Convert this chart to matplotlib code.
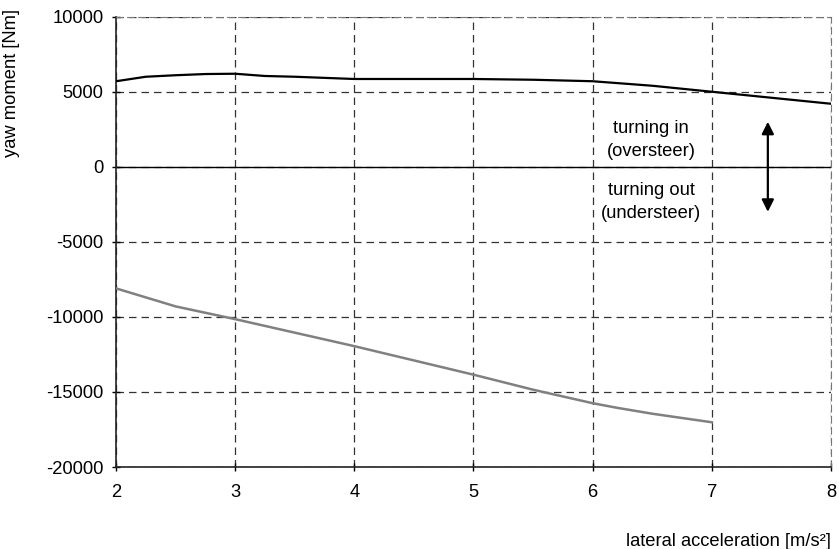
import matplotlib
matplotlib.use('Agg')
from matplotlib import pyplot as plt

plt.rcParams['font.family'] = ['Liberation Sans', 'DejaVu Sans']
plt.rcParams['axes.unicode_minus'] = False

# black curve: turning in / out moment
accel_top = [2.0, 2.25, 2.5, 2.75, 3.0, 3.25, 3.5, 4.0, 4.5, 5.0, 5.5, 6.0, 6.5, 7.0, 7.5, 8.0]
moment_top = [5700, 6000, 6100, 6180, 6200, 6050, 6000, 5850, 5850, 5850, 5800, 5700, 5400, 5000, 4600, 4200]

# grey curve
accel_low = [2.0, 2.5, 3.0, 3.5, 4.0, 4.5, 5.0, 5.5, 6.0, 6.2, 6.5, 7.0]
moment_low = [-8100, -9300, -10150, -11050, -11950, -12900, -13850, -14850, -15750, -16050, -16450, -17020]

x_ticks = [2, 3, 4, 5, 6, 7, 8]
y_ticks = [-20000, -15000, -10000, -5000, 0, 5000, 10000]

FS = 13.2

W, H = 839, 549
fig = plt.figure(figsize=(W / 100, H / 100), dpi=100)
ax = fig.add_axes([116 / W, 1 - 467 / H, (831 - 116) / W, (467 - 16.7) / H])

ax.set_xlim(2, 8)
ax.set_ylim(-20000, 10000)
ax.set_xticks(x_ticks)
ax.set_yticks(y_ticks)
ax.tick_params(direction='inout', length=6, width=1, labelsize=FS, pad=6, colors='black')
ax.tick_params(axis='x', pad=9)

ax.grid(True, linestyle=(0, (6, 4)), color='#333333', linewidth=0.9)
for s in ['top', 'right']:
    ax.spines[s].set_linestyle((0, (6, 4)))
    ax.spines[s].set_color('#777777')
for s in ['left', 'bottom']:
    ax.spines[s].set_color('#222222')
    ax.spines[s].set_linewidth(1.2)

ax.axhline(0, color='black', linewidth=1.0, zorder=2)

ax.plot(accel_top, moment_top, color='black', linewidth=1.6, zorder=3)
ax.plot(accel_low, moment_low, color='#808080', linewidth=1.8, zorder=3)

ax.annotate('', xy=(7.47, 3000), xytext=(7.47, -3000),
            arrowprops=dict(arrowstyle='<|-|>', color='black', lw=1.6,
                            mutation_scale=18, shrinkA=0, shrinkB=0))

ax.text(6.49, 1800, 'turning in\n(oversteer)', ha='center', va='center',
        fontsize=FS, linespacing=1.5)
ax.text(6.49, -2350, 'turning out\n(understeer)', ha='center', va='center',
        fontsize=FS, linespacing=1.5)

fig.text(831 / W, 1 - 541 / H, 'lateral acceleration [m/s²]', ha='right', va='center', fontsize=FS)
fig.text(12 / W, 1 - 9 / H, 'yaw moment [Nm]', ha='center', va='top', rotation=90, fontsize=FS)

fig.savefig('out.png', dpi=100)
